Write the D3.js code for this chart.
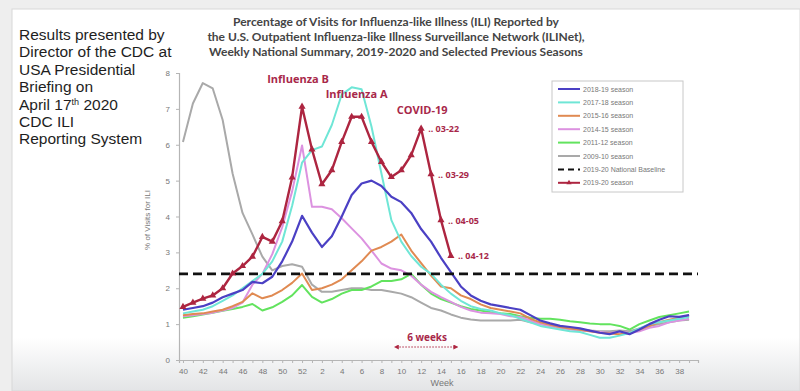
<!DOCTYPE html>
<html>
<head>
<meta charset="utf-8">
<script src="https://cdn.jsdelivr.net/npm/d3@7"></script>
<style>
  html, body { margin: 0; padding: 0; background: #efefef; }
  svg { display: block; }
</style>
</head>
<body>
<div id="chart"></div>
<script>
// week labels of the season (week 40 of 2019 .. week 39 of 2020)
const weeks = [40,41,42,43,44,45,46,47,48,49,50,51,52,
  1,2,3,4,5,6,7,8,9,10,11,12,13,14,15,16,17,18,19,20,
  21,22,23,24,25,26,27,28,29,30,31,32,33,34,35,36,37,38,39];

const s2018_19 = [1.4,1.45,1.5,1.6,1.75,1.85,1.95,2.18,2.14,2.32,2.75,3.3,4.02,
  3.55,3.15,3.45,4.0,4.6,4.92,5.0,4.85,4.55,4.4,4.1,3.65,3.3,2.85,2.45,2.05,1.8,1.65,1.55,1.5,
  1.45,1.4,1.25,1.1,1.02,0.95,0.92,0.88,0.82,0.76,0.72,0.8,0.72,0.85,1.0,1.12,1.22,1.2,1.25];
const s2017_18 = [1.3,1.35,1.4,1.5,1.65,1.8,2.0,2.2,2.4,2.75,3.3,4.3,5.5,
  5.85,5.95,6.55,7.4,7.6,7.55,6.5,5.2,3.9,3.3,2.9,2.6,2.4,2.1,1.85,1.65,1.5,1.42,1.38,1.3,
  1.25,1.15,1.05,0.95,0.9,0.85,0.8,0.78,0.7,0.62,0.62,0.68,0.75,0.88,1.0,1.05,1.1,1.15,1.2];
const s2015_16 = [1.25,1.28,1.3,1.35,1.4,1.5,1.62,1.86,1.72,1.8,1.95,2.15,2.41,
  1.95,2.0,2.1,2.25,2.5,2.75,3.05,3.15,3.3,3.5,3.05,2.7,2.35,2.05,2.0,1.8,1.7,1.55,1.45,1.4,
  1.35,1.3,1.15,1.05,0.98,0.92,0.88,0.84,0.8,0.76,0.74,0.72,0.75,0.85,0.95,1.05,1.12,1.18,1.25];
const s2014_15 = [1.22,1.25,1.28,1.32,1.38,1.45,1.6,2.1,2.4,2.95,3.7,4.7,5.98,
  4.27,4.27,4.2,3.95,3.67,3.39,3.05,2.69,2.55,2.5,2.35,2.1,1.9,1.75,1.62,1.48,1.38,1.32,1.3,1.28,
  1.22,1.2,1.1,1.0,0.95,0.9,0.85,0.82,0.8,0.78,0.75,0.78,0.75,0.8,0.9,0.95,1.05,1.1,1.15];
const s2011_12 = [1.18,1.22,1.27,1.32,1.37,1.42,1.48,1.56,1.38,1.47,1.62,1.8,2.09,
  1.76,1.6,1.7,1.85,1.95,1.95,2.05,2.2,2.2,2.25,2.4,2.1,1.85,1.7,1.6,1.5,1.42,1.38,1.33,1.3,
  1.28,1.22,1.18,1.15,1.15,1.12,1.08,1.05,1.02,1.0,1.0,0.95,0.85,1.0,1.1,1.2,1.25,1.3,1.35];
const s2009_10 = [6.08,7.15,7.72,7.57,6.69,5.2,4.1,3.5,2.88,2.5,2.62,2.67,2.6,
  2.1,1.9,1.9,1.95,2.0,2.0,1.95,1.95,1.9,1.85,1.75,1.6,1.45,1.38,1.27,1.18,1.13,1.1,1.1,1.1,
  1.1,1.12,1.05,1.0,0.95,0.9,0.88,0.85,0.82,0.8,0.8,0.82,0.8,0.88,0.95,1.0,1.05,1.1,1.12];
const s2019_20 = [1.48,1.6,1.71,1.8,2.0,2.41,2.62,2.88,3.43,3.3,3.87,5.09,7.06,
  5.87,4.9,5.29,6.08,6.78,6.78,6.08,5.52,5.1,5.29,5.71,6.45,5.18,3.9,2.9];
const baseline = 2.4;

const seasonNames = ["2018-19 season","2017-18 season","2015-16 season","2014-15 season",
  "2011-12 season","2009-10 season","2019-20 National Baseline","2019-20 season"];
const seasonColors = ["#4b40c4","#6fe6d6","#e08a52","#dc92e0","#62e35e","#a9a9a9","#111111","#ad2540"];

// index into the 2019-20 season (week 12 of 2020 is index 24)
const dateLabels = [[24,"03-22"],[25,"03-29"],[26,"04-05"],[27,"04-12"]];
const leftNote = ["Results presented by","Director of the CDC at","USA Presidential","Briefing on",
  "April 17|th| 2020","CDC ILI","Reporting System"];
const titleLines = ["Percentage of Visits for Influenza-like Illness (ILI) Reported by",
  "the U.S. Outpatient Influenza-like Illness Surveillance Network (ILINet),",
  "Weekly National Summary, 2019-2020 and Selected Previous Seasons"];

const width = 800, height = 391;
const red = "#ad2540";

const svg = d3.select("#chart").append("svg")
  .attr("width", width).attr("height", height);

// background card with grey fade at the bottom
const defs = svg.append("defs");
const grad = defs.append("linearGradient").attr("id","fade").attr("x1",0).attr("x2",0).attr("y1",0).attr("y2",1);
grad.append("stop").attr("offset","0.86").attr("stop-color","#ffffff");
grad.append("stop").attr("offset","1").attr("stop-color","#e3e4e6");
svg.append("rect").attr("x",0).attr("y",0).attr("width",width).attr("height",height).attr("fill","#eeeeee");
svg.append("rect").attr("x",12).attr("y",9).attr("width",width-12).attr("height",height-9)
  .attr("fill","url(#fade)").attr("stroke","#d8d8d8");

// scales
const x = d3.scaleLinear().domain([-0.4, 51.9]).range([179, 698]);
const y = d3.scaleLinear().domain([0, 8]).range([360, 73]);

// axes
const xAxis = svg.append("g").attr("transform", "translate(0,360)")
  .call(d3.axisBottom(x).tickValues(d3.range(weeks.length)).tickSize(3)
    .tickFormat((d,i) => i % 2 == 0 ? weeks[i] : ""));
const yAxis = svg.append("g").attr("transform", "translate(179,0)")
  .call(d3.axisLeft(y).tickValues(d3.range(0,9)).tickSize(3));
[xAxis, yAxis].forEach(g => {
  g.select(".domain").attr("stroke","#b5b5b5").attr("stroke-width",1.2);
  g.selectAll(".tick line").attr("stroke","#b5b5b5");
  g.selectAll("text").attr("fill","#777").style("font-family","Liberation Sans, Arial, sans-serif").style("font-size","8px");
});
xAxis.selectAll("text").attr("dy","0.95em");
yAxis.selectAll("text").attr("dx","-3px");

svg.append("text").attr("x",442).attr("y",386).attr("text-anchor","middle")
  .attr("fill","#777").style("font-family","Liberation Sans, Arial, sans-serif").style("font-size","9px").text("Week");
svg.append("text").attr("transform","translate(150,220) rotate(-90)").attr("text-anchor","middle")
  .attr("fill","#777").style("font-family","Liberation Sans, Arial, sans-serif").style("font-size","8px").text("% of Visits for ILI");

// season lines, drawn back to front
const line = d3.line().x((d,i) => x(i)).y(d => y(d));
const older = [
  [s2009_10, 5], [s2011_12, 4], [s2014_15, 3], [s2015_16, 2], [s2017_18, 1], [s2018_19, 0]
];
const plot = svg.append("g");
plot.selectAll("path.season").data(older).enter().append("path")
  .attr("class","season")
  .attr("d", d => line(d[0]))
  .attr("fill","none")
  .attr("stroke", d => seasonColors[d[1]])
  .attr("stroke-width", d => d[1] == 0 ? 2.2 : 2)
  .attr("stroke-linejoin","round");

// national baseline
svg.append("line").attr("x1",x(-0.4)).attr("x2",x(51.9)).attr("y1",y(baseline)).attr("y2",y(baseline))
  .attr("stroke","#111").attr("stroke-width",2.6).attr("stroke-dasharray","9,5");

// 2019-20 season with triangle markers
svg.append("path").attr("d", line(s2019_20)).attr("fill","none")
  .attr("stroke", red).attr("stroke-width",2.4).attr("stroke-linejoin","round");
svg.selectAll("path.marker").data(s2019_20).enter().append("path")
  .attr("class","marker")
  .attr("d", d3.symbol().type(d3.symbolTriangle).size(22))
  .attr("transform",(d,i) => `translate(${x(i)},${y(d)})`)
  .attr("fill", red);

// annotations
const annoFont = "Open Sans, sans-serif";
const annoColor = "#a8284a";
const anno = (tx, ty, str, size) => svg.append("text").attr("x",tx).attr("y",ty)
  .attr("text-anchor","middle").attr("fill",annoColor)
  .style("font-family",annoFont).style("font-weight","700").style("font-size",size).text(str);
anno(x(12) - 4, y(s2019_20[12]) - 24, "Influenza B", "11px");
anno(x(17.5), y(s2019_20[17]) - 19, "Influenza A", "11px");
anno(x(24) + 1, y(s2019_20[24]) - 15, "COVID-19", "11px");

dateLabels.forEach(([i, lab]) => {
  svg.append("text").attr("x", x(i) + 7).attr("y", y(s2019_20[i]) + 3.5)
    .attr("fill",annoColor).style("font-family",annoFont).style("font-weight","700").style("font-size","9px")
    .text(".. " + lab);
});

// six weeks arrow (week 10 is index 22, week 15 is index 27)
const arrowY = 347;
defs.append("marker").attr("id","arrowhead").attr("viewBox","0 0 10 10").attr("refX",5).attr("refY",5)
  .attr("markerWidth",5).attr("markerHeight",5).attr("orient","auto-start-reverse")
  .append("path").attr("d","M0,0L10,5L0,10z").attr("fill",red);
svg.append("line").attr("x1",x(21.5)).attr("x2",x(27.5)).attr("y1",arrowY).attr("y2",arrowY)
  .attr("stroke",red).attr("stroke-width",1).attr("stroke-dasharray","1.5,1.5")
  .attr("marker-start","url(#arrowhead)").attr("marker-end","url(#arrowhead)");
anno(x(24.5) + 1, 341, "6 weeks", "10px");

// legend
const lg = svg.append("g").attr("transform","translate(552,81)");
lg.append("rect").attr("width",131).attr("height",111).attr("fill","#fff").attr("stroke","#c8c8c8");
seasonNames.forEach((name, i) => {
  const ly = 8 + i * 13.4;
  const row = lg.append("g").attr("transform",`translate(0,${ly})`);
  row.append("line").attr("x1",6).attr("x2",28).attr("y1",0).attr("y2",0)
    .attr("stroke",seasonColors[i]).attr("stroke-width",2)
    .attr("stroke-dasharray", i == 6 ? "6,4" : null);
  if (i == 7) row.append("path").attr("d", d3.symbol().type(d3.symbolTriangle).size(12))
    .attr("transform","translate(17,0)").attr("fill",red);
  row.append("text").attr("x",31).attr("y",2.5).attr("fill","#777")
    .style("font-family","Liberation Sans, Arial, sans-serif").style("font-size","7px").text(name);
});

// title
svg.append("g").selectAll("text").data(titleLines).enter().append("text")
  .attr("x",396).attr("y",(d,i) => 26 + i * 15).attr("text-anchor","middle")
  .attr("fill","#444").style("font-family","Lato, sans-serif").style("font-weight","700").style("font-size","12px")
  .text(d => d);

// left note
const note = svg.append("g");
leftNote.forEach((l, i) => {
  const t = note.append("text").attr("x",19).attr("y",40 + i * 17.4).attr("fill","#1e1e1e")
    .style("font-family","Liberation Sans, Arial, sans-serif").style("font-size","15.5px");
  l.split("|").forEach((part, j) => {
    const ts = t.append("tspan").text(part);
    if (j == 1) ts.attr("dy","-5").style("font-size","9px");
    if (j == 2) ts.attr("dy","5");
  });
});
</script>
</body>
</html>
